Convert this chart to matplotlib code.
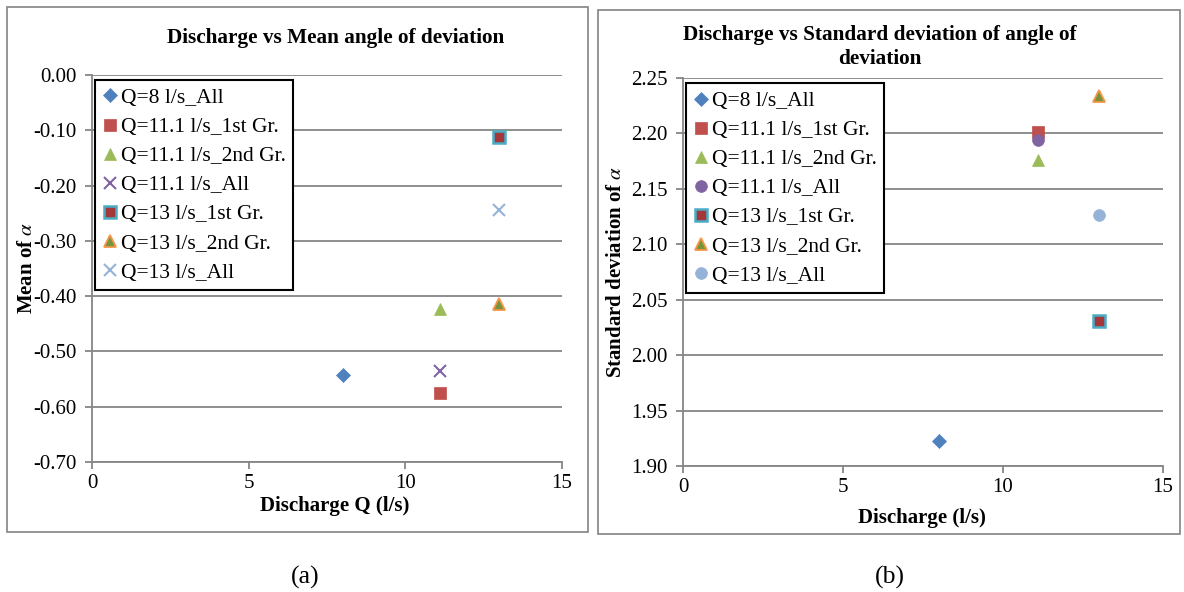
import matplotlib
matplotlib.use("Agg")
import matplotlib.pyplot as plt
from matplotlib.patches import Rectangle

plt.rcParams['font.family'] = ['Liberation Serif', 'DejaVu Serif']
plt.rcParams['mathtext.fontset'] = 'stix'

# series names (same for both charts, 4th/7th differ only in marker)
seriesNames = ['Q=8 l/s_All', 'Q=11.1 l/s_1st Gr.', 'Q=11.1 l/s_2nd Gr.', 'Q=11.1 l/s_All',
               'Q=13 l/s_1st Gr.', 'Q=13 l/s_2nd Gr.', 'Q=13 l/s_All']
discharge = [8, 11.1, 11.1, 11.1, 13, 13, 13]

meanAlpha = [-0.542, -0.576, -0.424, -0.535, -0.113, -0.415, -0.245]
stdAlpha = [1.923, 2.201, 2.176, 2.194, 2.031, 2.234, 2.126]

xTicks = [0, 5, 10, 15]
meanTicks = [0.0, -0.1, -0.2, -0.3, -0.4, -0.5, -0.6, -0.7]
stdTicks = [1.90, 1.95, 2.00, 2.05, 2.10, 2.15, 2.20, 2.25]

# marker styles: (marker, size, face, edge, edgewidth)
leftStyles = [('D', 7, '#4F81BD', '#4F81BD', 0.5),
              ('s', 8, '#C0504D', '#C0504D', 0.5),
              ('^', 8.5, '#9BBB59', '#9BBB59', 0.5),
              ('x', 8.5, '#8064A2', '#8064A2', 1.5),
              ('s', 8, '#A3373A', '#4BACC6', 1.8),
              ('^', 9, '#77933C', '#F79646', 1.3),
              ('x', 8.5, '#95B3D7', '#95B3D7', 1.5)]
rightStyles = list(leftStyles)
rightStyles[3] = ('o', 8.5, '#8064A2', '#8064A2', 0.5)
rightStyles[6] = ('o', 8.5, '#95B3D7', '#95B3D7', 0.5)

axisGray = '#868686'

fig = plt.figure(figsize=(11.84, 5.92), dpi=100)
W, H = 1184.0, 592.0


def px(x, y):
    return x / W, 1 - y / H


def panelBox(x0, y0, x1, y1):
    fig.patches.append(Rectangle((x0 / W, 1 - y1 / H), (x1 - x0) / W, (y1 - y0) / H,
                                 transform=fig.transFigure, fill=False,
                                 edgecolor='#8c8c8c', linewidth=1.3))


def makeAxes(rect, yValues, styles, yTicks, ylim):
    ax = fig.add_axes(rect)
    for i in range(len(seriesNames)):
        m, ms, fc, ec, ew = styles[i]
        ax.plot(discharge[i], yValues[i], linestyle='none', marker=m, markersize=ms,
                markerfacecolor=fc, markeredgecolor=ec, markeredgewidth=ew,
                color=ec, label=seriesNames[i], zorder=3)
    ax.set_xlim(0, 15)
    ax.set_ylim(ylim)
    ax.set_xticks(xTicks)
    ax.set_yticks(yTicks)
    ax.set_yticklabels(['%.2f' % v for v in yTicks])
    ax.grid(axis='y', color=axisGray, linewidth=1.3)
    ax.set_axisbelow(True)
    for s in ['top', 'right']:
        ax.spines[s].set_visible(False)
    for s in ['left', 'bottom']:
        ax.spines[s].set_color(axisGray)
        ax.spines[s].set_linewidth(1.3)
    ax.tick_params(colors=axisGray, labelcolor='black', labelsize=15, length=5,
                   width=1.3, direction='out')
    ax.tick_params(axis='y', pad=6)
    ax.tick_params(axis='x', pad=4)
    leg = ax.legend(loc='upper left', bbox_to_anchor=(0.006, 0.986), borderaxespad=0,
                    fancybox=False, fontsize=15.5, handlelength=0.7, handletextpad=0.15,
                    labelspacing=0.42, borderpad=0.35, framealpha=1, numpoints=1)
    leg.get_frame().set_edgecolor('black')
    leg.get_frame().set_linewidth(1.5)
    return ax


panelBox(7, 7, 588, 532)
panelBox(598, 10, 1180, 534)

l, b = px(92, 462)
axL = makeAxes([l, b, 470 / W, 387 / H], meanAlpha, leftStyles, meanTicks, (-0.7, 0.0))
l, b = px(683, 466)
axR = makeAxes([l, b, 480 / W, 388 / H], stdAlpha, rightStyles, stdTicks, (1.90, 2.25))

# titles and axis labels
fig.text(*px(336, 38), 'Discharge vs Mean angle of deviation', ha='center', va='center',
         fontsize=15.3, fontweight='bold')
fig.text(*px(880, 47), 'Discharge vs Standard deviation of angle of\ndeviation', ha='center',
         va='center', fontsize=15.3, fontweight='bold', linespacing=1.25)
fig.text(*px(335, 506), 'Discharge Q (l/s)', ha='center', va='center', fontsize=15, fontweight='bold')
fig.text(*px(922, 518), 'Discharge (l/s)', ha='center', va='center', fontsize=15, fontweight='bold')
fig.text(*px(27, 268), r'Mean of $\alpha$', ha='center', va='center', rotation=90,
         fontsize=15, fontweight='bold')
fig.text(*px(616, 272), r'Standard deviation of $\alpha$', ha='center', va='center', rotation=90,
         fontsize=15, fontweight='bold')

fig.text(*px(305, 577), '(a)', ha='center', va='center', fontsize=18.5)
fig.text(*px(890, 577), '(b)', ha='center', va='center', fontsize=18.5)

plt.savefig('out.png', dpi=100)
